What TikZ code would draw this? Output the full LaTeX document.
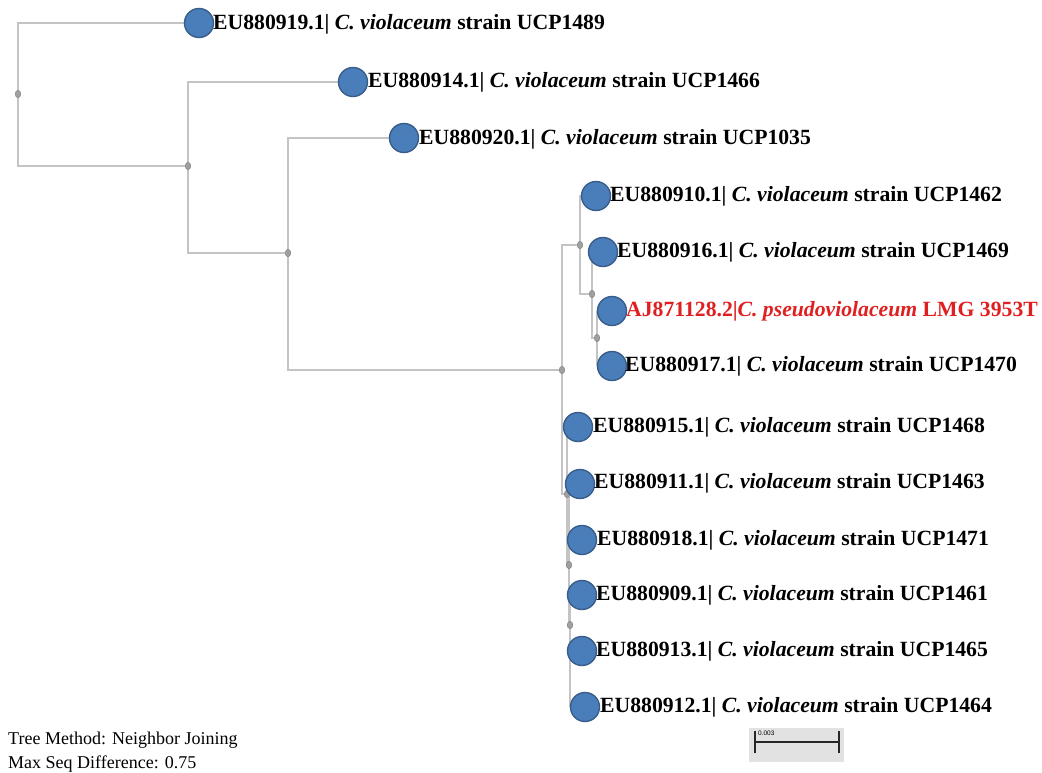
\documentclass[tikz,border=0pt]{standalone}
\usepackage{fontspec}
\setmainfont{Liberation Serif}
\newfontfamily\sansf{Liberation Sans}
\usetikzlibrary{shapes.geometric,backgrounds}
\definecolor{leafblue}{RGB}{74,126,187}
\definecolor{leafedge}{RGB}{56,93,138}
\definecolor{branch}{RGB}{196,196,196}
\definecolor{mark}{RGB}{160,160,160}
\definecolor{markedge}{RGB}{120,120,120}
\definecolor{refred}{RGB}{224,32,32}
\definecolor{barbg}{RGB}{226,226,226}
\tikzset{
  leaf/.style={circle,fill=leafblue,draw=leafedge,line width=1.4pt,minimum size=29pt,inner sep=0pt},
  inode/.style={ellipse,fill=mark,draw=markedge,line width=0.4pt,minimum width=5.5pt,minimum height=7.5pt,inner sep=0pt},
  lab/.style={anchor=west,inner sep=0pt,font=\fontsize{21.7}{24}\selectfont\bfseries},
  branchline/.style={draw=branch,line width=1.5pt},
  note/.style={anchor=west,inner sep=0pt,font=\fontsize{18}{20}\selectfont}
}
\newcommand{\cv}{\textit{C. violaceum}}
\begin{document}
\begin{tikzpicture}[x=1pt,y=-1pt]
\useasboundingbox (0,0) rectangle (1042,772);
% internal nodes
\node[inode] (n0) at (18,94) {};
\node[inode] (n1) at (188,166) {};
\node[inode] (n2) at (288,253) {};
\node[inode] (n3) at (562,370) {};
\node[inode] (n4) at (580,245) {};
\node[inode] (n5) at (592,294) {};
\node[inode] (n6) at (597,338) {};
\node[inode] (n7) at (567,494) {};
\node[inode] (n8) at (569,565) {};
\node[inode] (n9) at (570,625) {};
% leaves
\node[leaf] (l1) at (199,23) {};
\node[leaf] (l2) at (353,82) {};
\node[leaf] (l3) at (404,138) {};
\node[leaf] (l4) at (596,196) {};
\node[leaf] (l5) at (603,252) {};
\node[leaf] (l6) at (612,311) {};
\node[leaf] (l7) at (612,366) {};
\node[leaf] (l8) at (578,427) {};
\node[leaf] (l9) at (580,484) {};
\node[leaf] (l10) at (582,540) {};
\node[leaf] (l11) at (582,595) {};
\node[leaf] (l12) at (582,651) {};
\node[leaf] (l13) at (585,707) {};
% labels
\node[lab] (t1) at (213,24) {EU880919.1| \cv{} strain UCP1489};
\node[lab] (t2) at (368,82) {EU880914.1| \cv{} strain UCP1466};
\node[lab] (t3) at (419,139) {EU880920.1| \cv{} strain UCP1035};
\node[lab] (t4) at (610,196) {EU880910.1| \cv{} strain UCP1462};
\node[lab] (t5) at (617,252) {EU880916.1| \cv{} strain UCP1469};
\node[lab,text=refred] (t6) at (626,311) {AJ871128.2|\textit{C. pseudoviolaceum} LMG 3953T};
\node[lab] (t7) at (625,366) {EU880917.1| \cv{} strain UCP1470};
\node[lab] (t8) at (593,427) {EU880915.1| \cv{} strain UCP1468};
\node[lab] (t9) at (594,483) {EU880911.1| \cv{} strain UCP1463};
\node[lab] (t10) at (597,540) {EU880918.1| \cv{} strain UCP1471};
\node[lab] (t11) at (596,595) {EU880909.1| \cv{} strain UCP1461};
\node[lab] (t12) at (596,651) {EU880913.1| \cv{} strain UCP1465};
\node[lab] (t13) at (600,707) {EU880912.1| \cv{} strain UCP1464};
% branches
\begin{pgfonlayer}{background}
\fill[white] (0,0) rectangle (1042,772);
\path[branchline] (n0) |- (l1);
\path[branchline] (n0) |- (n1);
\path[branchline] (n1) |- (l2);
\path[branchline] (n1) |- (n2);
\path[branchline] (n2) |- (l3);
\path[branchline] (n2) |- (n3);
\path[branchline] (n3) |- (n4);
\path[branchline] (n3) |- (n7);
\path[branchline] (n4) |- (l4);
\path[branchline] (n4) |- (n5);
\path[branchline] (n5) |- (l5);
\path[branchline] (n5) |- (n6);
\path[branchline] (n6) |- (l6);
\path[branchline] (n6) |- (l7);
\path[branchline] (n7) |- (l8);
\path[branchline] (n7) |- (n8);
\path[branchline] (n8) |- (l9);
\path[branchline] (n8) |- (l10);
\path[branchline] (n8) |- (n9);
\path[branchline] (n9) |- (l11);
\path[branchline] (n9) |- (l12);
\path[branchline] (n9) |- (l13);
\end{pgfonlayer}
% notes
\node[note] (m1) at (8,740) {Tree Method: Neighbor Joining};
\node[note] (m2) at (8,764) {Max Seq Difference: 0.75};
% scale bar
\node[fill=barbg,minimum width=95pt,minimum height=34pt,inner sep=0pt] (sb) at (796.5,745) {};
\coordinate (b1) at (755,742);
\coordinate (b2) at (839,742);
\draw[line width=2pt,black!85] (b1) -- (b2);
\draw[line width=2pt,black!85] ([yshift=-11pt]b1) -- ([yshift=11pt]b1);
\draw[line width=2pt,black!85] ([yshift=-11pt]b2) -- ([yshift=11pt]b2);
\node[anchor=west,inner sep=0pt,font=\sansf\fontsize{6.5}{7}\selectfont] (sbl) at (758,733) {0.003};
\end{tikzpicture}
\end{document}
